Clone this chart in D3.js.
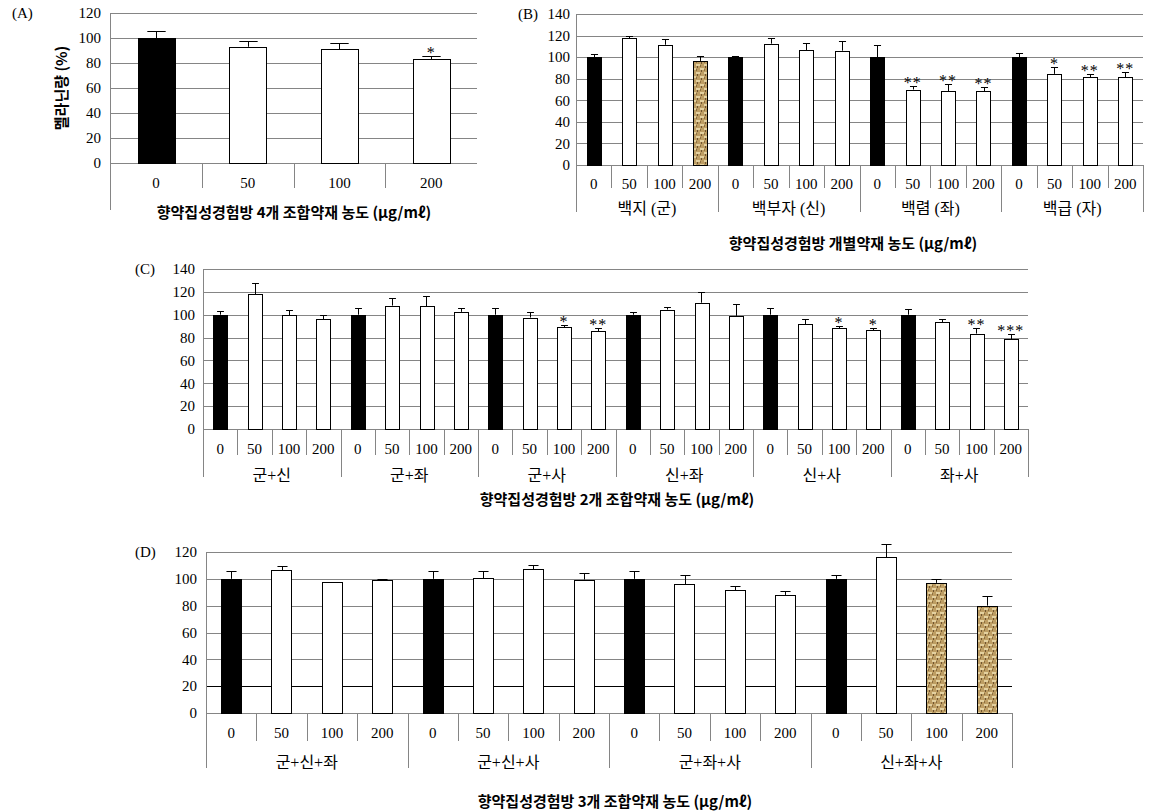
<!DOCTYPE html>
<html>
<head>
<meta charset="utf-8">
<script src="https://cdn.jsdelivr.net/npm/d3@7"></script>
<style>
  body { margin: 0; background: #fff; }
</style>
</head>
<body>
<script>
// Dose labels shared by every panel
const doses = ["0", "50", "100", "200"];

// Panel A: 4-herb combination
const aValues = [100, 93, 91, 83];
const aErrors = [6, 5, 5, 3];
const aMarks = ["", "", "", "*"];

// Panel B: individual herbs
const bGroups = ["백지 (군)", "백부자 (신)", "백렴 (좌)", "백급 (자)"];
const bValues = [100, 117.5, 111.5, 96.5, 100, 112.5, 106.5, 106, 100, 70, 68.5, 68.5, 100, 84.5, 81.5, 81.5];
const bErrors = [3, 2, 5, 4.5, 1, 5, 7, 9, 11, 3, 7, 3.5, 4, 6.5, 3, 5];
const bMarks = ["", "", "", "", "", "", "", "", "", "**", "**", "**", "", "*", "**", "**"];
const bTextured = [3];

// Panel C: 2-herb combinations
const cGroups = ["군+신", "군+좌", "군+사", "신+좌", "신+사", "좌+사"];
const cValues = [100, 118, 99.5, 96, 100, 108, 107.5, 102.5, 100, 97.5, 89, 85.5, 100, 104.5, 110.5, 99, 100, 91.5, 88, 86.5, 100, 93.5, 83.5, 78.5];
const cErrors = [3.5, 10, 5, 3.5, 6, 7, 9, 3, 6, 5, 2, 3, 2.5, 2.5, 9, 10, 6, 5, 2, 1.5, 5, 2.5, 4.5, 4.5];
const cMarks = ["", "", "", "", "", "", "", "", "", "", "*", "**", "", "", "", "", "", "", "*", "*", "", "", "**", "***"];

// Panel D: 3-herb combinations
const dGroups = ["군+신+좌", "군+신+사", "군+좌+사", "신+좌+사"];
const dValues = [100, 106.5, 97.5, 99, 100, 100.5, 107, 99.5, 100, 96, 91.5, 88, 100, 116, 97, 80];
const dErrors = [5.5, 3, 0, 1, 6, 5, 3, 5, 6, 6.5, 3.5, 3, 3, 10, 3, 7];
const dTextured = [14, 15];

const serif = "'Liberation Serif', 'Noto Sans CJK KR', serif";
const gothic = "'Noto Sans CJK KR', sans-serif";
const gridColor = "#858585";

const svg = d3.select("body").append("svg")
  .attr("width", 1155)
  .attr("height", 811);

// burlap-like texture for highlighted bars
const pat = svg.append("defs").append("pattern")
  .attr("id", "burlap")
  .attr("patternUnits", "userSpaceOnUse")
  .attr("width", 8).attr("height", 8);
pat.append("rect").attr("width", 8).attr("height", 8).attr("fill", "#bd9d63");
pat.append("rect").attr("x", 0).attr("y", 0).attr("width", 4).attr("height", 2).attr("fill", "#e4d1a0");
pat.append("rect").attr("x", 4).attr("y", 4).attr("width", 4).attr("height", 2).attr("fill", "#e4d1a0");
pat.append("rect").attr("x", 1).attr("y", 2).attr("width", 1).attr("height", 2).attr("fill", "#6f5430");
pat.append("rect").attr("x", 5).attr("y", 6).attr("width", 1).attr("height", 2).attr("fill", "#6f5430");
pat.append("rect").attr("x", 4).attr("y", 1).attr("width", 1).attr("height", 2).attr("fill", "#8d6f40");
pat.append("rect").attr("x", 0).attr("y", 5).attr("width", 1).attr("height", 2).attr("fill", "#8d6f40");

function drawPanel(p) {
  const n = p.values.length;
  const g = svg.append("g");

  const x = d3.scaleBand()
    .domain(d3.range(n))
    .range([p.left, p.right])
    .paddingInner(0.6)
    .paddingOuter(0.3);

  const y = d3.scaleLinear()
    .domain([0, p.max])
    .range([p.bottom, p.top]);

  const ticks = d3.range(0, p.max + 1, 20);

  // horizontal gridlines
  g.selectAll(".grid")
    .data(ticks)
    .enter()
    .append("line")
    .attr("x1", p.left)
    .attr("x2", p.right)
    .attr("y1", (d) => Math.round(y(d)) + 0.5)
    .attr("y2", (d) => Math.round(y(d)) + 0.5)
    .attr("stroke", (d) => (d === p.darkTick ? "#000" : gridColor));

  // y axis labels
  const yAxis = g.append("g")
    .attr("transform", `translate(${p.left},0)`)
    .call(d3.axisLeft(y).tickValues(ticks).tickSize(0).tickPadding(p.tickPad));
  yAxis.select(".domain").remove();
  yAxis.selectAll("text")
    .attr("font-family", serif)
    .attr("font-size", 15)
    .attr("fill", "#000");

  // left axis line, running down through the category rows
  g.append("line")
    .attr("x1", p.left + 0.5).attr("x2", p.left + 0.5)
    .attr("y1", p.top).attr("y2", p.groupDiv)
    .attr("stroke", gridColor);

  // category dividers
  const step = x.step();
  const divIdx = d3.range(1, p.groups ? n + 1 : n);
  g.selectAll(".div")
    .data(divIdx)
    .enter()
    .append("line")
    .attr("x1", (i) => Math.round(p.left + i * step) + 0.5)
    .attr("x2", (i) => Math.round(p.left + i * step) + 0.5)
    .attr("y1", p.bottom)
    .attr("y2", (i) => (p.groups && i % 4 === 0 ? p.groupDiv : p.valDiv))
    .attr("stroke", gridColor);

  // dose labels
  g.selectAll(".dose")
    .data(d3.range(n))
    .enter()
    .append("text")
    .attr("x", (i) => x(i) + x.bandwidth() / 2)
    .attr("y", p.valY)
    .attr("dy", "0.35em")
    .attr("text-anchor", "middle")
    .attr("font-family", serif)
    .attr("font-size", 15)
    .text((i) => doses[i % 4]);

  // group labels
  if (p.groups) {
    g.selectAll(".grp")
      .data(p.groups)
      .enter()
      .append("text")
      .attr("x", (d, k) => p.left + (k * 4 + 2) * step)
      .attr("y", p.groupY)
      .attr("dy", "0.35em")
      .attr("text-anchor", "middle")
      .attr("font-family", serif)
      .attr("font-size", 16)
      .text((d) => d);
  }

  // bars
  g.selectAll(".bar")
    .data(p.values)
    .enter()
    .append("rect")
    .attr("x", (d, i) => Math.round(x(i)) + 0.5)
    .attr("y", (d) => Math.round(y(d)) + 0.5)
    .attr("width", Math.round(x.bandwidth()))
    .attr("height", (d) => Math.round(y(0)) - Math.round(y(d)))
    .attr("fill", (d, i) => {
      if (i % 4 === 0) return "#000";
      if (p.textured && p.textured.includes(i)) return "url(#burlap)";
      return "#fff";
    })
    .attr("stroke", "#000")
    .attr("stroke-width", 1);

  // upper error bars with caps
  const cap = x.bandwidth() * 0.25;
  p.values.forEach((v, i) => {
    const e = p.errors[i];
    if (!e) return;
    const cx = Math.round(x(i) + x.bandwidth() / 2) + 0.5;
    const y0 = y(v);
    const y1 = Math.round(y(v + e)) + 0.5;
    g.append("line")
      .attr("x1", cx).attr("x2", cx)
      .attr("y1", y0).attr("y2", y1)
      .attr("stroke", "#000");
    g.append("line")
      .attr("x1", cx - cap).attr("x2", cx + cap)
      .attr("y1", y1).attr("y2", y1)
      .attr("stroke", "#000");
  });

  // significance marks
  if (p.marks) {
    g.selectAll(".mark")
      .data(p.marks)
      .enter()
      .append("text")
      .attr("x", (d, i) => x(i) + x.bandwidth() / 2)
      .attr("y", (d, i) => y(p.values[i] + p.errors[i]) + 2)
      .attr("text-anchor", "middle")
      .attr("font-family", serif)
      .attr("font-size", 16)
      .attr("letter-spacing", 1)
      .text((d) => d);
  }

  // panel letter
  g.append("text")
    .attr("x", p.letterX)
    .attr("y", p.top)
    .attr("dy", "0.35em")
    .attr("font-family", serif)
    .attr("font-size", 15)
    .text(p.letter);

  // x title
  g.append("text")
    .attr("x", p.titleX)
    .attr("y", p.titleY)
    .attr("dy", "0.35em")
    .attr("text-anchor", "middle")
    .attr("font-family", gothic)
    .attr("font-weight", "bold")
    .attr("font-size", 15)
    .text(p.title);
}

drawPanel({
  letter: "(A)", letterX: 12,
  values: aValues, errors: aErrors, marks: aMarks,
  left: 110, right: 477, top: 13, bottom: 163, max: 120, tickPad: 9,
  valDiv: 188, groupDiv: 210, valY: 183,
  title: "향약집성경험방 4개 조합약재 농도 (μg/mℓ)", titleX: 294, titleY: 213
});

// y label of panel A
svg.append("text")
  .attr("transform", "translate(62,88) rotate(-90)")
  .attr("dy", "0.35em")
  .attr("text-anchor", "middle")
  .attr("font-family", gothic)
  .attr("font-weight", "bold")
  .attr("font-size", 15)
  .text("멜라닌량 (%)");

drawPanel({
  letter: "(B)", letterX: 518,
  values: bValues, errors: bErrors, marks: bMarks, groups: bGroups, textured: bTextured,
  left: 576, right: 1143, top: 14, bottom: 165, max: 140, tickPad: 6,
  valDiv: 188, groupDiv: 212, valY: 184, groupY: 208,
  title: "향약집성경험방 개별약재 농도 (μg/mℓ)", titleX: 853, titleY: 244
});

drawPanel({
  letter: "(C)", letterX: 135,
  values: cValues, errors: cErrors, marks: cMarks, groups: cGroups,
  left: 203, right: 1028, top: 269, bottom: 429, max: 140, tickPad: 8,
  valDiv: 455, groupDiv: 477, valY: 449, groupY: 475,
  title: "향약집성경험방 2개 조합약재 농도 (μg/mℓ)", titleX: 617, titleY: 500
});

drawPanel({
  letter: "(D)", letterX: 135,
  values: dValues, errors: dErrors, groups: dGroups, textured: dTextured, darkTick: 20,
  left: 206, right: 1012, top: 552, bottom: 713, max: 120, tickPad: 9,
  valDiv: 741, groupDiv: 768, valY: 733, groupY: 762,
  title: "향약집성경험방 3개 조합약재 농도 (μg/mℓ)", titleX: 615, titleY: 802
});
</script>
</body>
</html>
